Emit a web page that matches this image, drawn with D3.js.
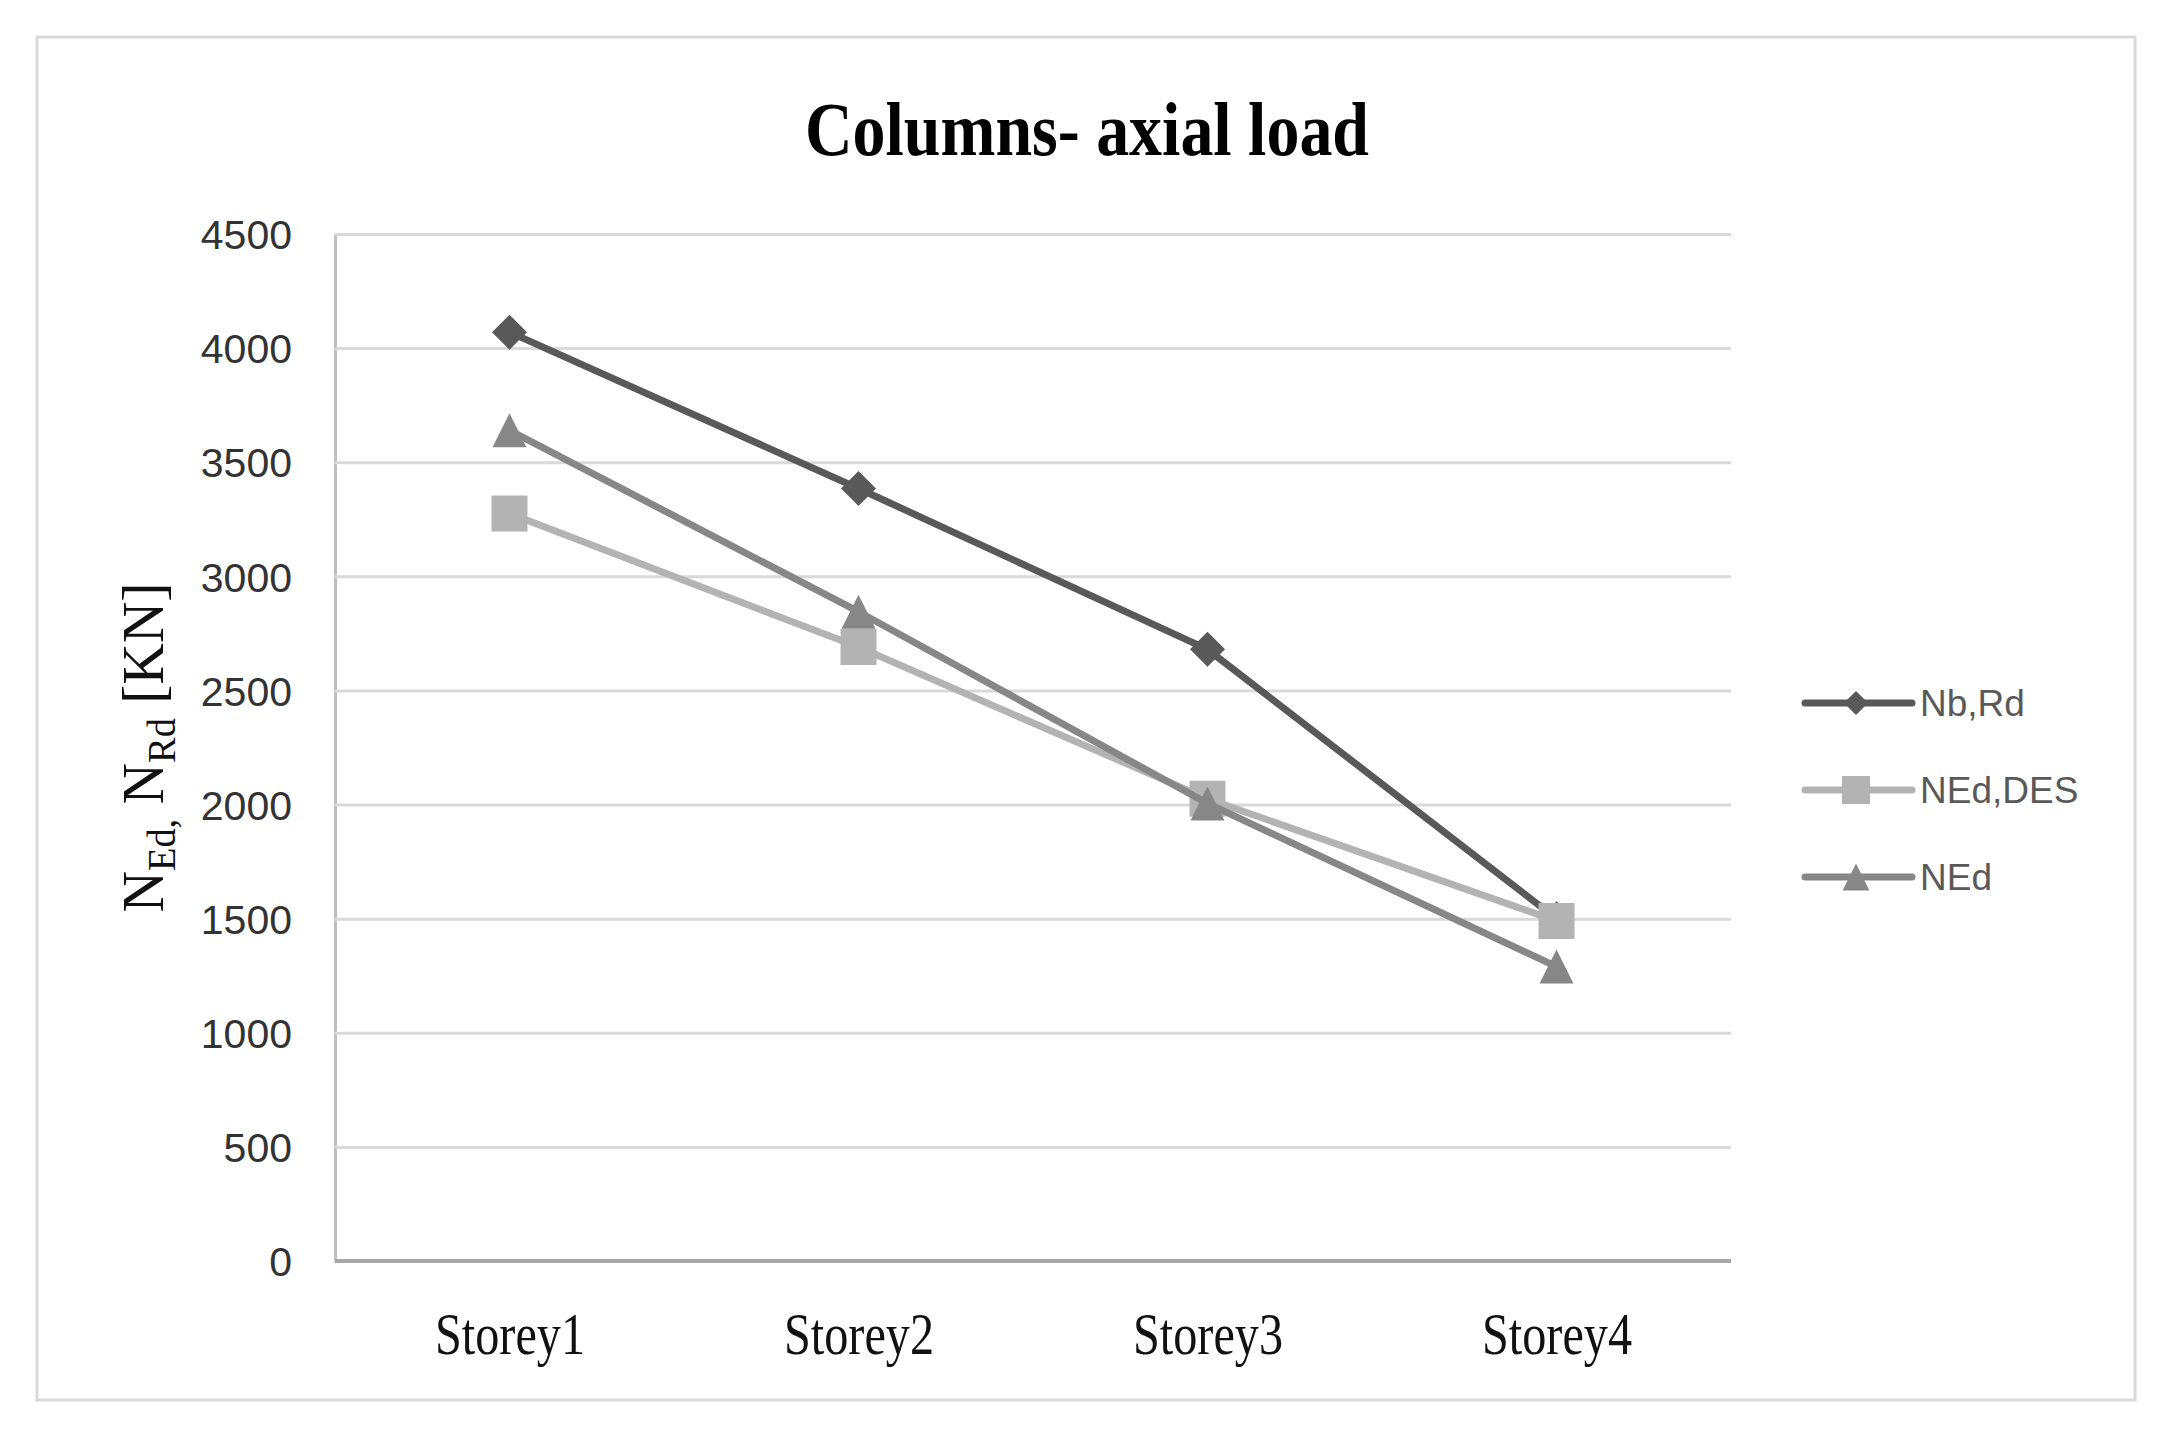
<!DOCTYPE html>
<html lang="en">
<head>
    <meta charset="UTF-8">
    <title>Columns- axial load</title>
    <script src="https://d3js.org/d3.v7.min.js"></script>
    <style>
        body { margin: 0; background: #fff; font-family: "Liberation Sans", Arial, sans-serif; }
    </style>
</head>
<body>
    <svg width="2178" height="1440"></svg>

    <script>
        // data
        const storeys = ["Storey1", "Storey2", "Storey3", "Storey4"];
        const nbRd = [4070, 3385, 2680, 1500];
        const nEdDes = [3275, 2690, 2025, 1490];
        const nEd = [3640, 2845, 2005, 1290];
        const seriesNames = ["Nb,Rd", "NEd,DES", "NEd"];
        const yTicks = [0, 500, 1000, 1500, 2000, 2500, 3000, 3500, 4000, 4500];

        const svg = d3.select("svg");
        const margin = { left: 335, right: 1731, top: 234, bottom: 1261 };

        // outer frame
        svg.append("rect")
            .attr("x", 37).attr("y", 37)
            .attr("width", 2098).attr("height", 1363)
            .attr("fill", "#fff")
            .attr("stroke", "#d9d9d9")
            .attr("stroke-width", 3);

        const x = d3.scalePoint()
            .domain(storeys)
            .range([margin.left, margin.right])
            .padding(0.5);

        const y = d3.scaleLinear()
            .domain([0, 4500])
            .range([margin.bottom, margin.top]);

        // y axis with grid
        const yAxis = svg.append("g")
            .attr("transform", `translate(${margin.left},0)`)
            .call(d3.axisLeft(y).tickValues(yTicks)
                .tickFormat(d3.format("d"))
                .tickSize(-(margin.right - margin.left))
                .tickSizeOuter(0)
                .tickPadding(43));
        yAxis.select(".domain").attr("stroke", "#bfbfbf").attr("stroke-width", 3);
        yAxis.selectAll(".tick line").attr("stroke", "#d9d9d9").attr("stroke-width", 3);
        yAxis.selectAll(".tick text")
            .attr("font-family", "'Liberation Sans', Arial, sans-serif")
            .attr("font-size", 41)
            .attr("fill", "#333")
            .attr("dy", "0.36em");

        // x axis
        const xAxis = svg.append("g")
            .attr("transform", `translate(0,${margin.bottom})`)
            .call(d3.axisBottom(x).tickSize(0).tickSizeOuter(0).tickPadding(69));
        xAxis.select(".domain")
            .attr("d", `M${margin.left},0H${margin.right}`)
            .attr("stroke", "#a6a6a6").attr("stroke-width", 4);
        xAxis.selectAll(".tick text")
            .attr("font-family", "'Liberation Serif', 'Times New Roman', serif")
            .attr("font-size", 60)
            .attr("fill", "#111")
            .attr("dy", "0.4em")
            .attr("textLength", 150)
            .attr("lengthAdjust", "spacingAndGlyphs");

        // title
        svg.append("text")
            .attr("x", 1087)
            .attr("y", 155)
            .attr("text-anchor", "middle")
            .attr("font-family", "'Liberation Serif', 'Times New Roman', serif")
            .attr("font-weight", "bold")
            .attr("font-size", 76)
            .attr("textLength", 564)
            .attr("lengthAdjust", "spacingAndGlyphs")
            .text("Columns- axial load");

        // y axis title
        const yTitle = svg.append("text")
            .attr("transform", `translate(163,${(margin.top + margin.bottom) / 2}) rotate(-90)`)
            .attr("text-anchor", "middle")
            .attr("font-family", "'Liberation Serif', 'Times New Roman', serif")
            .attr("font-size", 60)
            .attr("fill", "#111")
            .attr("textLength", 330)
            .attr("lengthAdjust", "spacingAndGlyphs");
        yTitle.append("tspan").text("N");
        yTitle.append("tspan").attr("font-size", 40).attr("dy", 12).text("Ed,");
        yTitle.append("tspan").attr("dy", -12).text(" N");
        yTitle.append("tspan").attr("font-size", 40).attr("dy", 12).text("Rd");
        yTitle.append("tspan").attr("dy", -12).text(" [KN]");

        // marker shapes
        const triangleUp = {
            draw(ctx, size) {
                const h = size / 2;
                ctx.moveTo(0, -h);
                ctx.lineTo(h, h);
                ctx.lineTo(-h, h);
                ctx.closePath();
            }
        };
        const boxSquare = {
            draw(ctx, size) {
                const h = size / 2;
                ctx.rect(-h, -h, size, size);
            }
        };
        const rhombus = {
            draw(ctx, size) {
                const h = size / 2;
                ctx.moveTo(0, -h);
                ctx.lineTo(h, 0);
                ctx.lineTo(0, h);
                ctx.lineTo(-h, 0);
                ctx.closePath();
            }
        };

        const series = [
            { name: seriesNames[0], values: nbRd, color: "#595959", shape: rhombus, size: 35, legSize: 24 },
            { name: seriesNames[1], values: nEdDes, color: "#b3b3b3", shape: boxSquare, size: 36, legSize: 28 },
            { name: seriesNames[2], values: nEd, color: "#878787", shape: triangleUp, size: 34, legSize: 27 }
        ];

        const line = d3.line()
            .x((d, i) => x(storeys[i]))
            .y(d => y(d));

        series.forEach(s => {
            const g = svg.append("g");
            g.append("path")
                .datum(s.values)
                .attr("d", line)
                .attr("fill", "none")
                .attr("stroke", s.color)
                .attr("stroke-width", 7)
                .attr("stroke-linejoin", "round")
                .attr("stroke-linecap", "round");
            g.selectAll(".marker")
                .data(s.values)
                .enter()
                .append("path")
                .attr("class", "marker")
                .attr("transform", (d, i) => `translate(${x(storeys[i])},${y(d)})`)
                .attr("d", d3.symbol().type(s.shape).size(s.size))
                .attr("fill", s.color);
        });

        // legend
        const legend = svg.append("g").attr("transform", "translate(1805,703)");
        const legendItems = legend.selectAll(".legend-item")
            .data(series)
            .enter()
            .append("g")
            .attr("class", "legend-item")
            .attr("transform", (d, i) => `translate(0,${i * 87})`);

        legendItems.append("line")
            .attr("x1", 0).attr("x2", 107)
            .attr("stroke", d => d.color)
            .attr("stroke-width", 7)
            .attr("stroke-linecap", "round");

        legendItems.append("path")
            .attr("transform", "translate(51,0)")
            .attr("d", d => d3.symbol().type(d.shape).size(d.legSize)())
            .attr("fill", d => d.color);

        legendItems.append("text")
            .attr("x", 115)
            .attr("y", 13)
            .attr("font-family", "'Liberation Sans', Arial, sans-serif")
            .attr("font-size", 37)
            .attr("fill", "#595959")
            .text(d => d.name);
    </script>
</body>
</html>
